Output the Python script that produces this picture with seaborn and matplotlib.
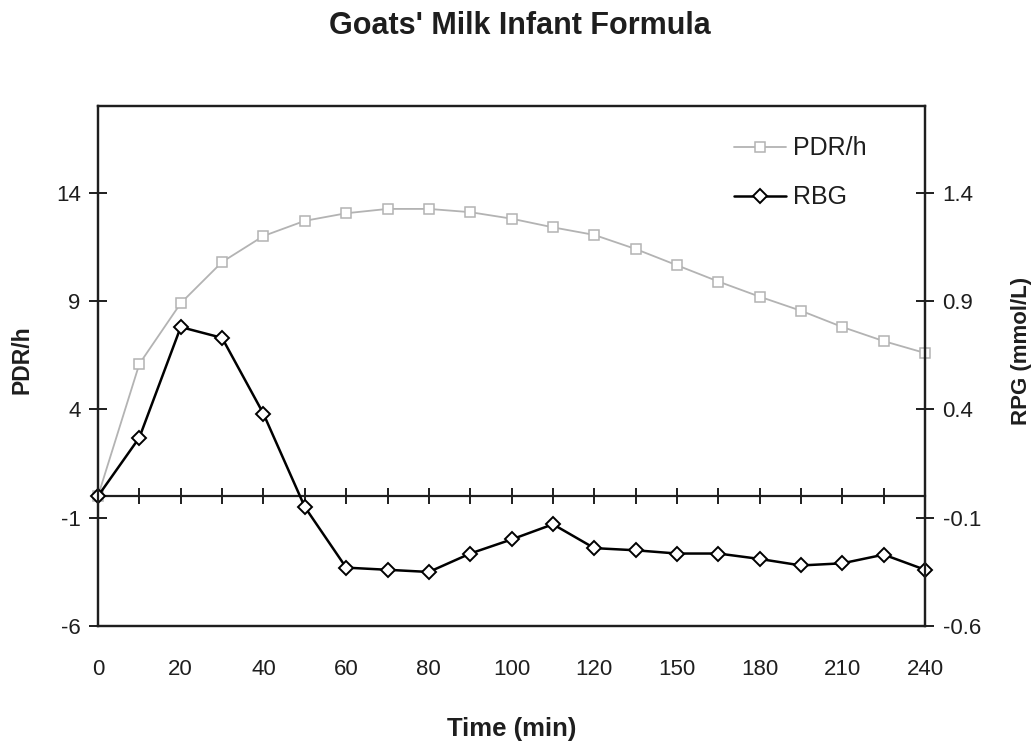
import numpy as np
import matplotlib
matplotlib.use("Agg")
import matplotlib.pyplot as plt
import seaborn as sns

# Sampling times (min) and measured series
times = [0, 10, 20, 30, 40, 50, 60, 70, 80, 90, 100, 110, 120,
         135, 150, 165, 180, 195, 210, 225, 240]
pdr_h = [0.0, 6.1, 8.9, 10.8, 12.0, 12.7, 13.05, 13.25, 13.25, 13.1, 12.8,
         12.4, 12.05, 11.4, 10.65, 9.9, 9.2, 8.55, 7.8, 7.15, 6.6]
rbg = [0.0, 0.27, 0.78, 0.73, 0.38, -0.05, -0.33, -0.34, -0.35, -0.265, -0.20,
       -0.13, -0.24, -0.25, -0.265, -0.265, -0.29, -0.32, -0.31, -0.27, -0.34]

left_ticks = [-6, -1, 4, 9, 14]
right_ticks = [-0.6, -0.1, 0.4, 0.9, 1.4]
right_tick_labels = ["-0.6", "-0.1", "0.4", "0.9", "1.4"]

sns.set_theme(style="white")
plt.rcParams["font.family"] = ["Liberation Sans", "DejaVu Sans"]

pos = np.arange(len(times))

fig, ax = plt.subplots(figsize=(10.36, 7.41), dpi=100)
fig.subplots_adjust(left=0.0946, right=0.893, top=0.857, bottom=0.155)
ax2 = ax.twinx()

gray = "#b3b3b3"
ink = "#1e1e1e"
sns.lineplot(x=pos, y=pdr_h, ax=ax, color=gray, linewidth=1.3, marker="s",
             markersize=7.5, markerfacecolor="white", markeredgecolor=gray,
             markeredgewidth=1.1, clip_on=False, label="PDR/h", legend=False)
sns.lineplot(x=pos, y=rbg, ax=ax2, color="black", linewidth=1.8, marker="D",
             markersize=7.5, markerfacecolor="white", markeredgecolor="black",
             markeredgewidth=1.4, clip_on=False, label="RBG", legend=False)

ax.set_xlim(0, len(times) - 1)
ax.set_ylim(-6, 18)
ax2.set_ylim(-0.6, 1.8)

ax.set_yticks(left_ticks)
ax.set_yticklabels([str(t) for t in left_ticks])
ax2.set_yticks(right_ticks)
ax2.set_yticklabels(right_tick_labels)

ax.set_xticks(pos[::2])
ax.set_xticklabels([str(t) for t in times[::2]])
ax.tick_params(axis="x", length=0, pad=24, labelsize=16, colors=ink)
ax.tick_params(axis="y", direction="inout", length=13, width=1.4,
               pad=6, labelsize=16, colors=ink, left=True)
ax2.tick_params(axis="y", direction="inout", length=13, width=1.4,
                pad=6, labelsize=16, colors=ink, right=True)
for a in (ax, ax2):
    for sp in a.spines.values():
        sp.set_visible(True)
        sp.set_color(ink)
        sp.set_linewidth(1.6)

# Zero reference line with a tick at each sampling point
zero = ax.secondary_xaxis(6 / 24)
zero.set_xticks(pos)
zero.set_xticklabels([])
zero.tick_params(axis="x", direction="inout", length=11, width=1.4,
                 colors=ink, bottom=True, top=False)
zero.spines["bottom"].set_linewidth(1.6)
zero.spines["bottom"].set_color(ink)

ax.set_xlabel("Time (min)", fontsize=18.5, fontweight="bold", labelpad=26,
              color=ink)
ax.set_ylabel("PDR/h", fontsize=16.5, fontweight="bold", labelpad=16,
              color=ink)
ax2.set_ylabel("RPG (mmol/L)", fontsize=16, fontweight="bold", labelpad=22,
               color=ink)
ax.yaxis.label.set_y(0.512)
ax2.yaxis.label.set_y(0.53)
fig.suptitle("Goats' Milk Infant Formula", fontsize=22, fontweight="bold",
             x=0.502, y=0.985, va="top", color=ink)

h1, l1 = ax.get_legend_handles_labels()
h2, l2 = ax2.get_legend_handles_labels()
ax2.legend(h1 + h2, l1 + l2, loc="upper right", bbox_to_anchor=(0.956, 0.985),
           frameon=False, fontsize=18, handlelength=2.1, handletextpad=0.25,
           labelspacing=1.0, labelcolor=ink)

fig.savefig("out.png", dpi=100)
